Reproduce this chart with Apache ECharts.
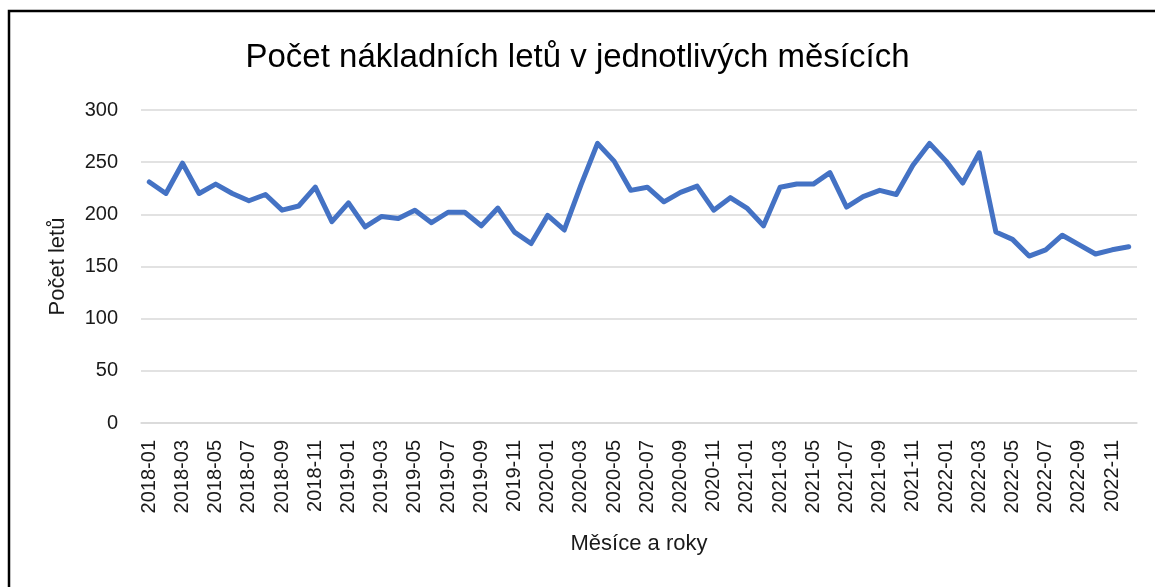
<!DOCTYPE html>
<html>
<head>
<meta charset="utf-8">
<script src="https://cdn.jsdelivr.net/npm/echarts@6/dist/echarts.min.js"></script>
<style>
html,body{margin:0;padding:0;background:#fff;}
#chart{width:1155px;height:587px;}
</style>
</head>
<body>
<div id="chart"></div>
<script>
const titleText = 'Počet nákladních letů v jednotlivých měsících';
const xAxisName = 'Měsíce a roky';
const yAxisName = 'Počet letů';
const months = [
  '2018-01','2018-02','2018-03','2018-04','2018-05','2018-06','2018-07','2018-08','2018-09','2018-10','2018-11','2018-12',
  '2019-01','2019-02','2019-03','2019-04','2019-05','2019-06','2019-07','2019-08','2019-09','2019-10','2019-11','2019-12',
  '2020-01','2020-02','2020-03','2020-04','2020-05','2020-06','2020-07','2020-08','2020-09','2020-10','2020-11','2020-12',
  '2021-01','2021-02','2021-03','2021-04','2021-05','2021-06','2021-07','2021-08','2021-09','2021-10','2021-11','2021-12',
  '2022-01','2022-02','2022-03','2022-04','2022-05','2022-06','2022-07','2022-08','2022-09','2022-10','2022-11','2022-12'
];
const flights = [
  231,220,249,220,229,220,213,219,204,208,226,193,
  211,188,198,196,204,192,202,202,189,206,183,172,
  199,185,228,268,251,223,226,212,221,227,204,216,
  206,189,226,229,229,240,207,217,223,219,247,268,
  251,230,259,183,176,160,166,180,171,162,166,169
];
const yMin = 0, yMax = 300, yStep = 50;

const font = '"Liberation Sans", Arial, sans-serif';
const chart = echarts.init(document.getElementById('chart'), null, {renderer: 'canvas'});
chart.setOption({
  animation: false,
  backgroundColor: '#ffffff',
  title: {
    text: titleText,
    left: 'center',
    top: 36,
    textStyle: {fontFamily: font, fontSize: 33, fontWeight: 'normal', color: '#000000'}
  },
  graphic: [{
    type: 'rect',
    shape: {x: 9, y: 11, width: 1200, height: 700},
    style: {fill: 'none', stroke: '#000000', lineWidth: 2.5},
    silent: true
  }],
  grid: {left: 141, right: 18, top: 110, bottom: 164, containLabel: false},
  xAxis: {
    type: 'category',
    data: months,
    boundaryGap: true,
    name: xAxisName,
    nameLocation: 'middle',
    nameGap: 110,
    nameTextStyle: {fontFamily: font, fontSize: 22, color: '#1a1a1a'},
    axisLine: {show: true, lineStyle: {color: '#d9d9d9', width: 1.5}},
    axisTick: {show: false},
    axisLabel: {
      interval: 1,
      rotate: 90,
      margin: 17,
      fontFamily: font,
      fontSize: 20,
      color: '#1a1a1a'
    },
    splitLine: {show: false}
  },
  yAxis: {
    type: 'value',
    min: yMin,
    max: yMax,
    interval: yStep,
    name: yAxisName,
    nameLocation: 'middle',
    nameGap: 72,
    nameTextStyle: {fontFamily: font, fontSize: 22, color: '#1a1a1a'},
    axisLine: {show: false},
    axisTick: {show: false},
    axisLabel: {margin: 23, fontFamily: font, fontSize: 20, color: '#1a1a1a'},
    splitLine: {show: true, lineStyle: {color: '#d9d9d9', width: 1.5}}
  },
  series: [{
    type: 'line',
    data: flights,
    symbol: 'none',
    lineStyle: {color: '#4472C4', width: 5, join: 'round', cap: 'round'},
    itemStyle: {color: '#4472C4'}
  }]
});
</script>
</body>
</html>
